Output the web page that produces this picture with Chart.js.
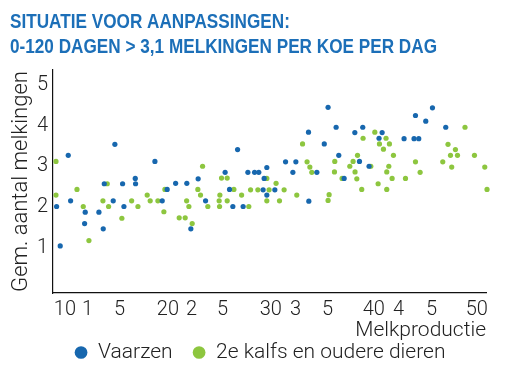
<!DOCTYPE html>
<html>
<head>
<meta charset="utf-8">
<script src="https://cdn.jsdelivr.net/npm/chart.js@4"></script>
<style>
  html, body { margin: 0; padding: 0; background: #ffffff; }
  #wrap { width: 507px; height: 387px; position: relative; }
</style>
</head>
<body>
<div id="wrap"><canvas id="c" width="507" height="387"></canvas></div>
<script>
// ---- Data ----
const titleLines = ["SITUATIE VOOR AANPASSINGEN:", "0-120 DAGEN > 3,1 MELKINGEN PER KOE PER DAG"];
const seriesNames = ["Vaarzen", "2e kalfs en oudere dieren"];
const xTitle = "Melkproductie";
const yTitle = "Gem. aantal melkingen";

const xTickValues = [10, 12.2, 15.3, 20, 22.3, 25.3, 30, 32.4, 35.5, 40, 42.4, 45.6, 50];
const xTickLabels = ["10", "1", "5", "20", "2", "5", "30", "3", "5", "40", "4", "5", "50"];
const yTickValues = [1, 2, 3, 4, 5];

const vaarzenX = [14.85, 10.32, 10.55, 9.19, 13.82, 15.60, 16.83, 16.86, 14.69, 15.73, 11.97, 13.30, 11.91, 13.72, 9.54,
  18.74, 20.75, 21.84, 22.94, 19.93, 19.45, 25.56, 25.99, 23.66, 26.31, 22.23,
  33.66, 35.19, 26.77, 31.43, 32.43, 29.61, 27.77, 28.42, 28.83, 32.14, 34.47, 29.35, 29.25, 30.39, 29.61, 27.31, 33.69,
  35.56, 36.34, 38.93, 38.16, 40.81, 40.51, 42.94, 43.91, 44.37, 36.60, 38.61, 39.54, 37.12,
  45.70, 44.05, 45.05, 46.99];
const vaarzenY = [3.54, 3.27, 2.15, 2.01, 2.57, 2.57, 2.70, 2.57, 2.15, 2.01, 1.87, 1.87, 1.59, 1.46, 1.04,
  3.12, 2.58, 2.58, 2.69, 2.43, 2.15, 2.85, 2.43, 2.15, 2.01, 1.46,
  3.84, 3.55, 3.41, 3.11, 3.11, 2.97, 2.85, 2.85, 2.85, 2.85, 2.85, 2.70, 2.42, 2.42, 2.29, 2.01, 2.14,
  4.45, 3.96, 3.96, 3.83, 3.83, 3.69, 3.68, 3.68, 3.68, 3.27, 3.12, 3.00, 2.70,
  4.44, 4.25, 4.11, 3.96];

const oudereX = [9.13, 9.13, 11.17, 14.11, 11.78, 13.69, 14.24, 16.48, 17.09, 15.53, 12.33,
  23.37, 25.21, 25.76, 19.71, 17.99, 18.28, 19.03, 22.91, 23.17, 25.05, 26.41, 21.82, 24.98, 25.76, 22.04, 23.88, 25.02, 19.61, 21.10, 21.68, 22.36,
  33.08, 33.52, 33.79, 33.98, 29.61, 30.51, 28.03, 28.74, 29.83, 31.29, 27.16, 32.52, 29.61, 30.84, 27.86,
  40.10, 41.19, 38.96, 40.55, 41.52, 40.94, 38.42, 41.91, 36.21, 37.99, 39.71, 41.46, 37.67, 36.18, 38.18, 41.26, 44.05, 36.92, 38.35, 41.78, 43.08, 40.42, 38.83, 41.26, 35.66, 35.56,
  48.86, 47.21, 47.93, 47.45, 48.13, 49.78, 46.70, 47.57, 50.78, 44.50, 51.00];
const oudereY = [3.12, 2.29, 2.43, 2.57, 2.01, 2.15, 2.01, 2.15, 2.01, 1.72, 1.17,
  3.00, 2.71, 2.71, 2.43, 2.29, 2.15, 2.15, 2.43, 2.29, 2.29, 2.43, 2.15, 2.15, 2.15, 2.01, 2.01, 2.01, 1.88, 1.73, 1.73, 1.59,
  3.55, 3.11, 2.98, 2.85, 2.70, 2.58, 2.42, 2.42, 2.42, 2.42, 2.29, 2.29, 2.15, 2.15, 2.01,
  3.84, 3.69, 3.69, 3.55, 3.55, 3.42, 3.27, 3.27, 3.12, 3.12, 3.00, 3.00, 3.00, 2.86, 2.86, 2.86, 3.11, 2.70, 2.69, 2.70, 2.70, 2.57, 2.43, 2.43, 2.30, 2.16,
  3.96, 3.54, 3.41, 3.27, 3.27, 3.27, 3.11, 2.98, 2.98, 2.85, 2.43];

const seriesColors = ["#1767ae", "#8dc63f"];

function pts(xs, ys) { return xs.map((x, i) => ({ x: x, y: ys[i] })); }

const FONT = "Roboto, 'Liberation Sans', Arial, sans-serif";
const TITLE_FONT = "bold 21px 'Liberation Sans', Arial, sans-serif";

// Condensed bold title, drawn as canvas text
const condensedTitle = {
  id: 'condensedTitle',
  afterDraw(chart) {
    const ctx = chart.ctx;
    ctx.save();
    ctx.font = TITLE_FONT;
    ctx.fillStyle = '#1c6fb8';
    ctx.textBaseline = 'middle';
    ctx.textAlign = 'left';
    const targetWidth = 427;
    const s = targetWidth / ctx.measureText(titleLines[1]).width;
    const ys = [22, 47];
    titleLines.forEach((line, i) => {
      ctx.save();
      ctx.translate(10, ys[i]);
      ctx.scale(s, 1);
      ctx.fillText(line, 0, 0);
      ctx.restore();
    });
    ctx.restore();
  }
};

const legendShift = {
  id: 'legendShift',
  afterLayout(chart) {
    const lg = chart.legend;
    if (lg) { lg.left += 12; lg.right += 12; lg.top -= 14; lg.bottom -= 14; }
  }
};

new Chart(document.getElementById('c'), {
  type: 'scatter',
  data: {
    datasets: [
      { label: seriesNames[0], data: pts(vaarzenX, vaarzenY), backgroundColor: seriesColors[0], borderColor: seriesColors[0],
        pointRadius: 2.6, pointBorderWidth: 0, pointHoverRadius: 3, clip: false },
      { label: seriesNames[1], data: pts(oudereX, oudereY), backgroundColor: seriesColors[1], borderColor: seriesColors[1],
        pointRadius: 2.6, pointBorderWidth: 0, pointHoverRadius: 3, clip: false }
    ]
  },
  plugins: [legendShift, condensedTitle],
  options: {
    responsive: false,
    animation: false,
    devicePixelRatio: 1,
    layout: { padding: { left: 10, right: 21, top: 70, bottom: 0 } },
    plugins: {
      tooltip: { enabled: false },
      title: { display: false },
      legend: {
        display: true,
        position: 'bottom',
        align: 'center',
        labels: {
          usePointStyle: true,
          pointStyle: 'circle',
          boxWidth: 13,
          boxHeight: 9,
          padding: 20,
          color: '#222222',
          font: { family: FONT, size: 21, weight: '300' }
        }
      }
    },
    scales: {
      x: {
        type: 'linear',
        min: 8.84,
        max: 50.9,
        grid: { display: false, drawTicks: false },
        border: { display: true, color: '#111111', width: 1.2 },
        afterBuildTicks(scale) { scale.ticks = xTickValues.map(v => ({ value: v })); },
        afterFit(scale) { scale.height = 43; },
        ticks: {
          autoSkip: false, maxRotation: 0, padding: 5, color: '#222222',
          font: { family: FONT, size: 20, weight: '300' },
          callback(value) { const i = xTickValues.indexOf(value); return i >= 0 ? xTickLabels[i] : ''; }
        },
        title: {
          display: true, text: xTitle, align: 'end', color: '#222222',
          font: { family: FONT, size: 21, weight: '300' }, padding: { top: 0, bottom: -7 }
        }
      },
      y: {
        type: 'linear',
        min: -0.12,
        max: 5.37,
        grid: { display: false, drawTicks: false },
        border: { display: true, color: '#111111', width: 1.2 },
        afterBuildTicks(scale) { scale.ticks = yTickValues.map(v => ({ value: v })); },
        afterFit(scale) { scale.width = 43; },
        ticks: {
          padding: 5, color: '#222222',
          font: { family: FONT, size: 20, weight: '300' }
        },
        title: {
          display: true, text: yTitle, color: '#222222',
          font: { family: FONT, size: 22, weight: '300', lineHeight: 1.2 },
          padding: { top: -2, bottom: 0 }
        }
      }
    }
  }
});
</script>
</body>
</html>
